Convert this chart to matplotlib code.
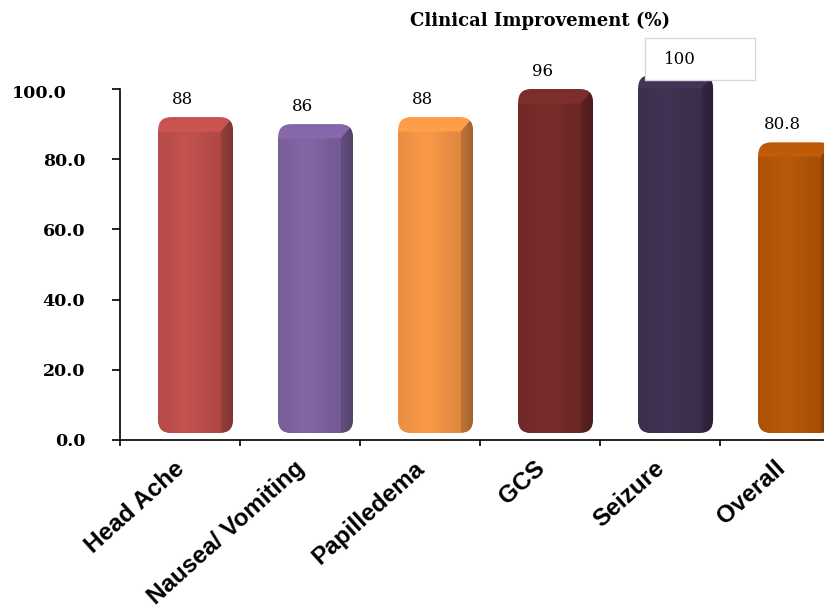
import numpy as np
import matplotlib
matplotlib.use("Agg")
import matplotlib.pyplot as plt
from matplotlib.patches import FancyBboxPatch, Rectangle
from matplotlib.colors import to_rgb

categories = ["Head Ache", "Nausea/ Vomiting", "Papilledema", "GCS", "Seizure", "Overall"]
improvement = [88, 86, 88, 96, 100, 80.8]
value_labels = ["88", "86", "88", "96", "100", "80.8"]
bar_colors = ["#C0504D", "#8064A2", "#F79646", "#772C2A", "#403152", "#B65708"]
yticks = [0, 20, 40, 60, 80, 100]
ytick_labels = ["0.0", "20.0", "40.0", "60.0", "80.0", "100.0"]
title = "Clinical Improvement (%)"

W, H = 824, 611
fig = plt.figure(figsize=(W / 100, H / 100), dpi=100)
ax = fig.add_axes([120 / W, 1 - 440 / H, 720 / W, 351 / H])
ax.set_xlim(-0.5, 5.5)
ax.set_ylim(0, 100)

# pixel scale of one data unit along each axis, used for even corner rounding
aspect = (720 / 6) / (351 / 100)

serif = "DejaVu Serif"
sans = "Liberation Sans"

# cylinder-like bars: front face from ax.bar, then a shaded 3D body on top
base = 2.0
front_w = 0.525
shift = 0.08
depth_x = 0.1
depth_y = 4.0
radius = 0.11

x = np.arange(len(categories))
vals = np.array(improvement, dtype=float)
bars = ax.bar(x + shift, vals - base, bottom=base, width=front_w,
              color=bar_colors, zorder=2, linewidth=0)

for rect, color in zip(bars, bar_colors):
    x0 = rect.get_x()
    x1 = x0 + rect.get_width()
    y0 = rect.get_y()
    top = y0 + rect.get_height()
    xr = x1 + depth_x
    yt = top + depth_y
    outline = FancyBboxPatch((x0, y0), xr - x0, yt - y0,
                             boxstyle=f"round,pad=0,rounding_size={radius}",
                             mutation_aspect=aspect, facecolor="none",
                             edgecolor="none")
    ax.add_patch(outline)
    rect.set_clip_path(outline)
    rect.set_clip_box(fig.bbox)

    nx, ny = 160, 500
    gx = np.linspace(x0, xr, nx)
    gy = np.linspace(y0, yt, ny)
    XX, YY = np.meshgrid(gx, gy)
    rgb = np.array(to_rgb(color))
    t = np.clip((YY - top) / depth_y, 0, 1)
    above = YY > top
    right_edge = x1 + t * depth_x

    u = np.clip((XX - x0) / (x1 - x0), 0, 1)
    front_shade = 0.94 + 0.09 * np.exp(-((u - 0.45) / 0.3) ** 2) - 0.03 * u
    sv = np.clip((XX - x1) / depth_x, 0, 1)
    side_shade = 0.78 - 0.12 * sv

    shade = np.where(XX > right_edge, side_shade, front_shade)
    shade = np.where(above & (XX <= right_edge), 1.07 - 0.04 * t, shade)
    col = np.clip(rgb[None, None, :] * shade[..., None], 0, 1)
    im = ax.imshow(col, extent=(x0, xr, y0, yt), origin="lower",
                   aspect="auto", interpolation="bilinear", zorder=3)
    im.set_clip_path(outline)
    im.set_clip_box(fig.bbox)

ax.set_xlim(-0.5, 5.5)
ax.set_ylim(0, 100)

# value labels above each bar; the 100 sits in a framed box
for i, (v, lab) in enumerate(zip(vals, value_labels)):
    if v >= 100:
        ax.add_patch(Rectangle((3.875, 102.6), 0.917, 11.9, facecolor="white",
                               edgecolor="#d9d9d9", linewidth=1.0,
                               clip_on=False, zorder=4))
        ax.text(i + 0.167, v + 8.3, lab, ha="center", va="center",
                fontfamily=serif, fontsize=12, zorder=5)
    else:
        ax.text(i + 0.02, v + 9, lab, ha="center", va="center",
                fontfamily=serif, fontsize=12, zorder=5)

# axes styling
for s in ("top", "right"):
    ax.spines[s].set_visible(False)
for s in ("left", "bottom"):
    ax.spines[s].set_linewidth(1.2)

ax.set_yticks(yticks)
ax.set_yticklabels([lab if lab != "100.0" else "" for lab in ytick_labels],
                   fontfamily=serif, fontweight="bold", fontsize=12.5)
ax.tick_params(axis="y", length=6, width=1.2, pad=19)
ax.annotate(ytick_labels[-1], xy=(0, 100), xycoords=("axes fraction", "data"),
            xytext=(-38, -3), textcoords="offset points", ha="right",
            va="center", fontfamily=serif, fontweight="bold", fontsize=12.5,
            annotation_clip=False)

ax.set_xticks(np.arange(-0.5, 6, 1.0))
ax.set_xticklabels([])
ax.tick_params(axis="x", which="major", length=4.5, width=1.2)
# category names hang from just left of each bar centre
ax.set_xticks(x - 0.05, categories, minor=True)
ax.tick_params(axis="x", which="minor", length=0, pad=12)
for lbl in ax.get_xticklabels(minor=True):
    lbl.set_rotation(42)
    lbl.set_ha("right")
    lbl.set_rotation_mode("anchor")
    lbl.set_fontfamily(sans)
    lbl.set_fontweight("bold")
    lbl.set_fontsize(17.5)

fig.text(540 / W, 1 - 21 / H, title, ha="center", va="center",
         fontfamily=serif, fontweight="bold", fontsize=13)

fig.savefig("out.png", dpi=100)
